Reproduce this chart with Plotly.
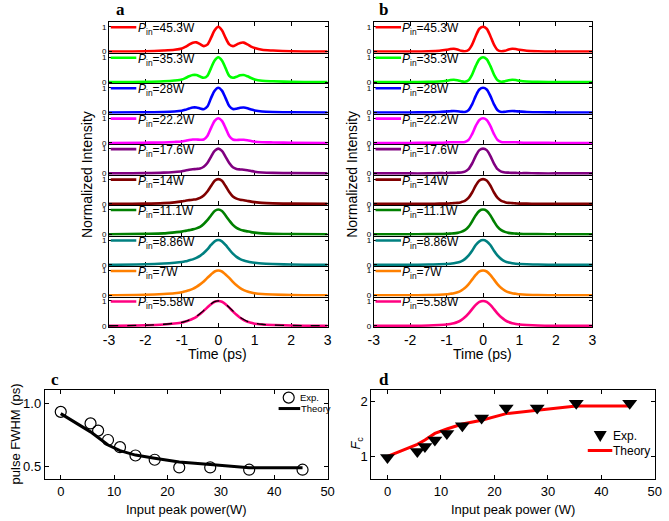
import plotly.graph_objects as go

# ---- data ----
t = [-3, -2, -1.5, -1.2, -1.0, -0.9, -0.8, -0.7, -0.6, -0.5, -0.4, -0.3, -0.2, -0.1,
     0, 0.1, 0.2, 0.3, 0.4, 0.5, 0.6, 0.7, 0.8, 0.9, 1.0, 1.2, 1.5, 2, 3]

power_labels = ["45.3W", "35.3W", "28W", "22.2W", "17.6W", "14W", "11.1W", "8.86W", "7W", "5.58W"]
colors = ["#ff0000", "#00ff00", "#0000ff", "#ff00ff", "#800080",
          "#800000", "#008000", "#008080", "#ff8000", "#ff0080"]

# panel a: measured pulses
exp_453 = [0, 0.01, 0.04, 0.07, 0.12, 0.19, 0.28, 0.36, 0.37, 0.30, 0.22, 0.28, 0.55, 0.86, 1.0,
           0.86, 0.55, 0.29, 0.22, 0.28, 0.35, 0.36, 0.29, 0.20, 0.14, 0.07, 0.04, 0.01, 0]
exp_353 = [0, 0.01, 0.03, 0.06, 0.10, 0.16, 0.23, 0.28, 0.28, 0.22, 0.17, 0.25, 0.56, 0.87, 1.0,
           0.87, 0.56, 0.25, 0.17, 0.21, 0.27, 0.28, 0.23, 0.16, 0.10, 0.05, 0.03, 0.01, 0]
exp_28 = [0, 0.01, 0.02, 0.04, 0.07, 0.11, 0.16, 0.20, 0.20, 0.16, 0.13, 0.24, 0.58, 0.88, 1.0,
          0.88, 0.58, 0.26, 0.14, 0.15, 0.19, 0.20, 0.17, 0.12, 0.08, 0.04, 0.02, 0.01, 0]
exp_222 = [0, 0.01, 0.02, 0.04, 0.06, 0.09, 0.12, 0.14, 0.14, 0.13, 0.14, 0.28, 0.60, 0.89, 1.0,
           0.89, 0.60, 0.28, 0.14, 0.12, 0.13, 0.13, 0.11, 0.08, 0.05, 0.03, 0.02, 0.01, 0]
exp_176 = [0, 0.01, 0.03, 0.06, 0.09, 0.12, 0.15, 0.17, 0.18, 0.20, 0.27, 0.42, 0.67, 0.91, 1.0,
           0.91, 0.67, 0.42, 0.25, 0.18, 0.16, 0.15, 0.13, 0.10, 0.07, 0.04, 0.02, 0.01, 0]
exp_14 = [0, 0.01, 0.03, 0.06, 0.10, 0.13, 0.15, 0.17, 0.19, 0.24, 0.34, 0.50, 0.72, 0.93, 1.0,
          0.93, 0.72, 0.48, 0.30, 0.21, 0.17, 0.15, 0.12, 0.09, 0.07, 0.04, 0.02, 0.01, 0]
exp_111 = [0, 0.02, 0.04, 0.08, 0.11, 0.14, 0.17, 0.20, 0.24, 0.30, 0.42, 0.57, 0.76, 0.94, 1.0,
           0.94, 0.76, 0.56, 0.38, 0.26, 0.19, 0.15, 0.12, 0.09, 0.07, 0.04, 0.02, 0.01, 0]
exp_886 = [0, 0.02, 0.05, 0.08, 0.11, 0.14, 0.18, 0.22, 0.28, 0.36, 0.48, 0.62, 0.80, 0.95, 1.0,
           0.95, 0.80, 0.62, 0.45, 0.32, 0.23, 0.17, 0.13, 0.10, 0.08, 0.05, 0.03, 0.01, 0]
exp_7 = [0, 0.02, 0.05, 0.08, 0.12, 0.16, 0.20, 0.26, 0.34, 0.44, 0.56, 0.70, 0.84, 0.96, 1.0,
         0.96, 0.84, 0.70, 0.54, 0.40, 0.29, 0.21, 0.15, 0.11, 0.08, 0.05, 0.03, 0.01, 0]
exp_558 = [0, 0.02, 0.05, 0.09, 0.13, 0.17, 0.22, 0.28, 0.36, 0.47, 0.60, 0.74, 0.87, 0.97, 1.0,
           0.97, 0.87, 0.73, 0.58, 0.44, 0.32, 0.23, 0.16, 0.12, 0.08, 0.05, 0.03, 0.01, 0]
# dashed black curve drawn over the 5.58W trace
ref_558 = [0, 0.02, 0.06, 0.10, 0.14, 0.18, 0.23, 0.30, 0.38, 0.49, 0.61, 0.75, 0.88, 0.97, 1.0,
           0.97, 0.88, 0.74, 0.60, 0.46, 0.34, 0.25, 0.18, 0.13, 0.10, 0.06, 0.03, 0.01, 0]

# panel b: simulated pulses
thy_453 = [0, 0, 0.01, 0.03, 0.07, 0.10, 0.11, 0.08, 0.03, 0.01, 0.06, 0.28, 0.63, 0.92, 1.0,
           0.92, 0.63, 0.28, 0.06, 0.01, 0.03, 0.08, 0.11, 0.10, 0.07, 0.03, 0.01, 0, 0]
thy_353 = [0, 0, 0.01, 0.02, 0.05, 0.08, 0.09, 0.07, 0.03, 0.01, 0.07, 0.30, 0.65, 0.92, 1.0,
           0.92, 0.65, 0.30, 0.07, 0.01, 0.03, 0.07, 0.09, 0.08, 0.05, 0.02, 0.01, 0, 0]
thy_28 = [0, 0, 0.01, 0.02, 0.04, 0.05, 0.06, 0.05, 0.03, 0.02, 0.09, 0.33, 0.67, 0.93, 1.0,
          0.93, 0.67, 0.33, 0.09, 0.02, 0.03, 0.05, 0.06, 0.05, 0.04, 0.02, 0.01, 0, 0]
thy_222 = [0, 0, 0.01, 0.01, 0.02, 0.03, 0.03, 0.03, 0.03, 0.04, 0.12, 0.36, 0.69, 0.93, 1.0,
           0.93, 0.69, 0.36, 0.12, 0.04, 0.03, 0.03, 0.03, 0.03, 0.02, 0.01, 0.01, 0, 0]
thy_176 = [0, 0, 0, 0.01, 0.01, 0.02, 0.02, 0.03, 0.04, 0.07, 0.17, 0.40, 0.71, 0.94, 1.0,
           0.94, 0.71, 0.40, 0.17, 0.07, 0.04, 0.03, 0.02, 0.02, 0.01, 0.01, 0, 0, 0]
thy_14 = [0, 0, 0, 0.01, 0.01, 0.02, 0.03, 0.04, 0.07, 0.12, 0.24, 0.46, 0.74, 0.94, 1.0,
          0.94, 0.74, 0.46, 0.24, 0.12, 0.07, 0.04, 0.03, 0.02, 0.01, 0.01, 0, 0, 0]
thy_111 = [0, 0, 0.01, 0.01, 0.02, 0.03, 0.04, 0.06, 0.10, 0.17, 0.30, 0.52, 0.77, 0.95, 1.0,
           0.95, 0.77, 0.52, 0.30, 0.17, 0.10, 0.06, 0.04, 0.03, 0.02, 0.01, 0.01, 0, 0]
thy_886 = [0, 0, 0.01, 0.02, 0.03, 0.04, 0.06, 0.09, 0.14, 0.23, 0.37, 0.57, 0.80, 0.95, 1.0,
           0.95, 0.80, 0.57, 0.37, 0.23, 0.14, 0.09, 0.06, 0.04, 0.03, 0.02, 0.01, 0, 0]
thy_7 = [0, 0, 0.01, 0.02, 0.04, 0.06, 0.08, 0.12, 0.19, 0.29, 0.44, 0.63, 0.82, 0.96, 1.0,
         0.96, 0.82, 0.63, 0.44, 0.29, 0.19, 0.12, 0.08, 0.06, 0.04, 0.02, 0.01, 0, 0]
thy_558 = [0, 0, 0.01, 0.03, 0.05, 0.07, 0.10, 0.15, 0.23, 0.34, 0.49, 0.67, 0.84, 0.96, 1.0,
           0.96, 0.84, 0.67, 0.49, 0.34, 0.23, 0.15, 0.10, 0.07, 0.05, 0.03, 0.01, 0, 0]

exp_curves = [exp_453, exp_353, exp_28, exp_222, exp_176, exp_14, exp_111, exp_886, exp_7, exp_558]
thy_curves = [thy_453, thy_353, thy_28, thy_222, thy_176, thy_14, thy_111, thy_886, thy_7, thy_558]

# panels c and d
power = [0, 5.58, 7, 8.86, 11.1, 14, 17.6, 22.2, 28, 35.3, 45.3]
fwhm_exp = [0.934, 0.842, 0.785, 0.71, 0.653, 0.587, 0.553, 0.492, 0.492, 0.474, 0.474]
fwhm_theory = [0.92, 0.775, 0.73, 0.67, 0.625, 0.59, 0.565, 0.535, 0.515, 0.49, 0.49]
fc_exp = [0.98, 1.09, 1.18, 1.30, 1.42, 1.56, 1.70, 1.88, 1.88, 1.97, 1.97]
fc_theory = [1.0, 1.22, 1.30, 1.42, 1.50, 1.59, 1.66, 1.78, 1.84, 1.92, 1.92]

# ---- layout helpers (figure has zero margins, so paper == pixels) ----
W, H = 669, 521
FONT = "Arial, Liberation Sans, sans-serif"
SERIF = "Times New Roman, Liberation Serif, serif"


def px(x):
    return x / W


def py(y):
    return 1 - y / H


def ax_name(n, kind):
    return kind if n == 1 else f"{kind}{n}"


fig = go.Figure()
layout = {}
annotations = []
shapes = []

strip_top, strip_h = 22.5, 30.7
panels = [(105, 328, exp_curves), (375, 598, thy_curves)]

n = 0
for p, (x0, x1, curves) in enumerate(panels):
    for k in range(10):
        n += 1
        xa, ya = ax_name(n, "x"), ax_name(n, "y")
        bottom = k == 9
        top = k == 0
        layout["xaxis" + ("" if n == 1 else str(n))] = dict(
            domain=[px(x0), px(x1)], anchor=ya, range=[-3, 3],
            tickvals=[-3, -2, -1, 0, 1, 2, 3],
            ticktext=["-3", "-2", "-1", "0", "1", "2", "3"],
            showticklabels=bottom, ticks="inside", ticklen=4, tickcolor="black",
            showline=True, linecolor="black", linewidth=1,
            mirror="ticks" if top else False, layer="below traces",
            showgrid=False, zeroline=False,
            tickfont=dict(family=FONT, size=14, color="black"),
        )
        layout["yaxis" + ("" if n == 1 else str(n))] = dict(
            domain=[py(strip_top + strip_h * (k + 1)), py(strip_top + strip_h * k)],
            anchor=xa, range=[-0.05, 1.18], tickvals=[0, 1],
            ticks="inside", ticklen=3, tickcolor="black",
            showline=True, linecolor="black", linewidth=1, mirror="ticks",
            showgrid=False, zeroline=False,
            tickfont=dict(family=FONT, size=8, color="black"),
        )
        fig.add_trace(go.Scatter(
            x=t, y=curves[k], xaxis=xa, yaxis=ya, mode="lines",
            line=dict(color=colors[k], width=2.6, shape="spline", smoothing=0.8),
            showlegend=False, hoverinfo="skip"))
        if p == 0 and bottom:
            fig.add_trace(go.Scatter(
                x=t, y=ref_558, xaxis=xa, yaxis=ya, mode="lines",
                line=dict(color="black", width=1.3, dash="dash", shape="spline", smoothing=0.8),
                showlegend=False, hoverinfo="skip"))
        # in-strip legend
        shapes.append(dict(type="line", xref=xa, yref=ya, x0=-2.95, x1=-2.25, y0=0.98, y1=0.98,
                           line=dict(color=colors[k], width=2.6)))
        annotations.append(dict(
            x=-2.27, y=0.98, xref=xa, yref=ya, xanchor="left", yanchor="middle",
            text="<i>P</i><sub>in</sub>=" + power_labels[k], showarrow=False, yshift=-2,
            font=dict(family=FONT, size=12, color="black")))

# panel c
layout["xaxis21"] = dict(
    domain=[px(39.5), px(328)], anchor="y21", range=[-3, 50],
    tickvals=[0, 10, 20, 30, 40, 50], ticks="inside", ticklen=4, tickcolor="black",
    showline=True, linecolor="black", linewidth=1, mirror="ticks",
    showgrid=False, zeroline=False, tickfont=dict(family=FONT, size=13, color="black"))
layout["yaxis21"] = dict(
    domain=[py(482.7), py(393)], anchor="x21", range=[0.40, 1.108],
    tickvals=[0.5, 1.0], ticktext=["0.5", "1.0"], ticks="inside", ticklen=4, tickcolor="black",
    showline=True, linecolor="black", linewidth=1, mirror="ticks",
    showgrid=False, zeroline=False, tickfont=dict(family=FONT, size=13, color="black"))
fig.add_trace(go.Scatter(x=power, y=fwhm_theory, xaxis="x21", yaxis="y21", mode="lines",
                         line=dict(color="black", width=3), showlegend=False))
fig.add_trace(go.Scatter(x=power, y=fwhm_exp, xaxis="x21", yaxis="y21", mode="markers",
                         marker=dict(symbol="circle-open", size=11, color="black",
                                     line=dict(width=1.2)),
                         showlegend=False))

# panel d
layout["xaxis22"] = dict(
    domain=[px(372.7), px(661.7)], anchor="y22", range=[-3, 50],
    tickvals=[0, 10, 20, 30, 40, 50], ticks="inside", ticklen=4, tickcolor="black",
    showline=True, linecolor="black", linewidth=1, mirror="ticks",
    showgrid=False, zeroline=False, tickfont=dict(family=FONT, size=13, color="black"))
layout["yaxis22"] = dict(
    domain=[py(482.7), py(393)], anchor="x22", range=[0.59, 2.21],
    tickvals=[1, 2], ticks="inside", ticklen=4, tickcolor="black",
    showline=True, linecolor="black", linewidth=1, mirror="ticks",
    showgrid=False, zeroline=False, tickfont=dict(family=FONT, size=13, color="black"))
fig.add_trace(go.Scatter(x=power, y=fc_theory, xaxis="x22", yaxis="y22", mode="lines",
                         line=dict(color="#ff0000", width=3), showlegend=False))
fig.add_trace(go.Scatter(x=power, y=fc_exp, xaxis="x22", yaxis="y22", mode="markers",
                         marker=dict(symbol="triangle-down", size=13, color="black"),
                         showlegend=False))


# titles and panel letters
def label(text, x, y, size=13, angle=0, family=FONT, anchor="center"):
    annotations.append(dict(x=px(x), y=py(y), xref="paper", yref="paper", text=text,
                            showarrow=False, textangle=angle, xanchor=anchor, yanchor="middle",
                            font=dict(family=family, size=size, color="black")))


label("Normalized Intensity", 82, 176, 14, -90)
label("Normalized Intensity", 352, 176, 14, -90)
label("Time (ps)", 216, 357, 14)
label("Time (ps)", 486, 357, 14)
label("pulse FWHM (ps)", 10, 437, 13, -90)
label("<i>F</i><sub>c</sub>", 358, 447, 13, -90)
label("Input peak power(W)", 184, 513, 13)
label("Input peak power (W)", 517, 513, 13)
for letter, x, y in [("a", 117, 10), ("b", 385, 10), ("c", 50, 382), ("d", 385, 382)]:
    label("<b>" + letter + "</b>", x, y, 17, 0, SERIF)

# small legends in c and d
shapes.append(dict(type="circle", xref="paper", yref="paper", xsizemode="pixel", ysizemode="pixel",
                   xanchor=px(288.3), yanchor=py(400.7), x0=-5.5, x1=5.5, y0=-5.5, y1=5.5,
                   line=dict(color="black", width=1.2)))
shapes.append(dict(type="line", xref="paper", yref="paper", x0=px(278), x1=px(300),
                   y0=py(411.7), y1=py(411.7), line=dict(color="black", width=3)))
label("Exp.", 298, 400.7, 9.5, anchor="left")
label("Theory", 298.5, 411.7, 9.5, anchor="left")

shapes.append(dict(type="path", xref="paper", yref="paper", xsizemode="pixel", ysizemode="pixel",
                   xanchor=px(606), yanchor=py(439.3), path="M -6.5 5 L 6.5 5 L 0 -6 Z",
                   fillcolor="black", line=dict(color="black", width=0)))
shapes.append(dict(type="line", xref="paper", yref="paper", x0=px(593.3), x1=px(618.3),
                   y0=py(454), y1=py(454), line=dict(color="#ff0000", width=3)))
label("Exp.", 617, 439.3, 12, anchor="left")
label("Theory", 617, 454, 12, anchor="left")

fig.update_layout(
    width=W, height=H, margin=dict(l=0, r=0, t=0, b=0),
    paper_bgcolor="white", plot_bgcolor="white",
    font=dict(family=FONT, color="black"),
    annotations=annotations, shapes=shapes,
    showlegend=False,
    **layout,
)

fig.write_html("out.html", config={"displayModeBar": False},
               post_script="document.body.style.margin='0';")
